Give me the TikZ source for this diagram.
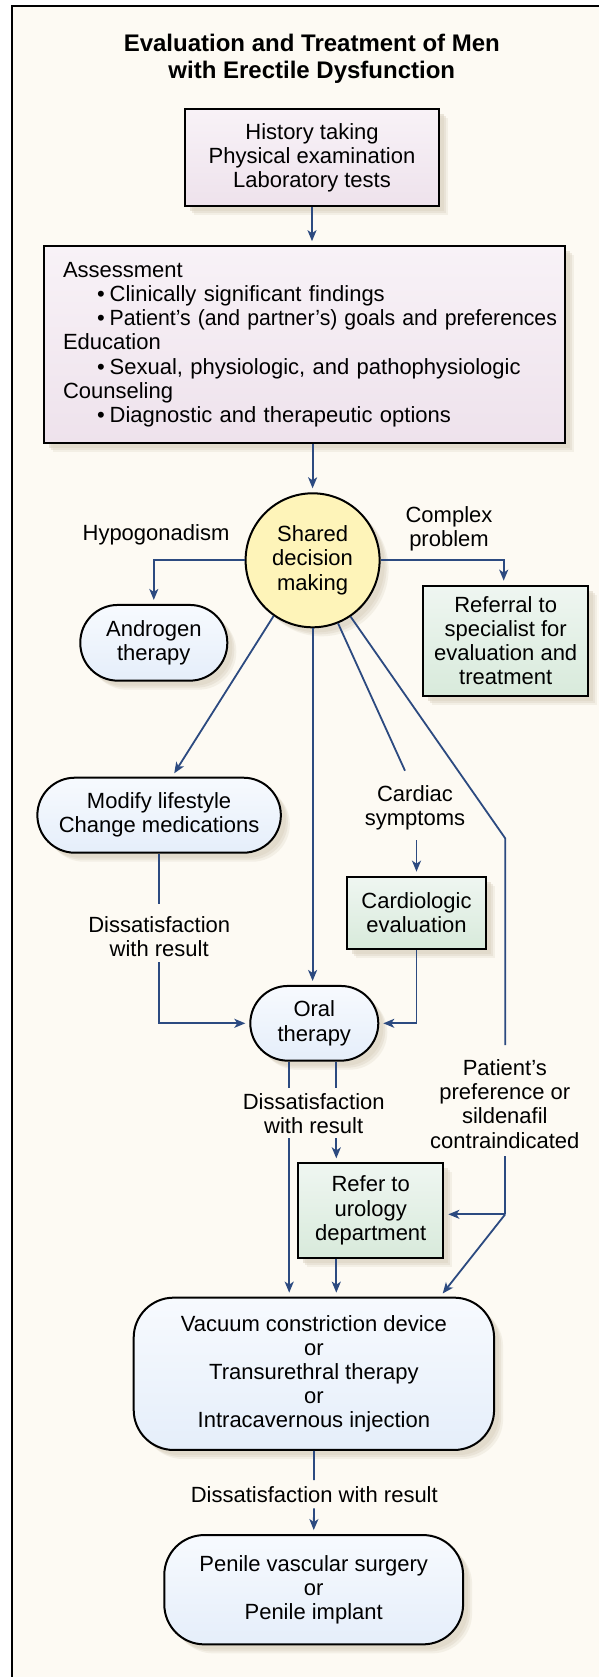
\documentclass[tikz,border=0pt]{standalone}
\usepackage{fontspec}
\usepackage{graphicx}
\setmainfont{Liberation Sans}
\usetikzlibrary{arrows.meta,shadows,calc}
\definecolor{bgc}{HTML}{FDFAF3}
\definecolor{navy}{HTML}{2C4A80}
\definecolor{lavt}{HTML}{F8F2F7}
\definecolor{lavb}{HTML}{EEE2EC}
\definecolor{grnt}{HTML}{EFF6F1}
\definecolor{grnb}{HTML}{D8EADB}
\definecolor{blut}{HTML}{F7FAFE}
\definecolor{blub}{HTML}{E5EEFA}
\definecolor{yel}{HTML}{FEF4B9}
\definecolor{shadc}{HTML}{DED6C6}
\begin{document}
\begin{tikzpicture}[x=1pt,y=-1pt,
  every node/.style={font=\fontsize{22}{24.2}\selectfont, align=center},
  conn/.style={draw=navy, line width=1.8pt},
  arr/.style={conn, -{Stealth[length=11pt,width=9pt,inset=3pt]}, shorten >=4pt},
  shad/.style={
    drop shadow={shadow xshift=9pt,shadow yshift=-9pt,fill=shadc,opacity=0.3},
    drop shadow={shadow xshift=7pt,shadow yshift=-7pt,fill=shadc,opacity=0.45},
    drop shadow={shadow xshift=5pt,shadow yshift=-5pt,fill=shadc,opacity=0.6}},
  boxbase/.style={draw=black, line width=2pt, inner sep=0pt, shad},
  lavbox/.style={boxbase, rectangle, top color=lavt, bottom color=lavb},
  greenbox/.style={boxbase, rectangle, top color=grnt, bottom color=grnb},
  bluebox/.style={boxbase, rectangle, rounded corners=37.5pt, top color=blut, bottom color=blub},
  bigblue/.style={boxbase, rectangle, rounded corners=40pt, top color=blut, bottom color=blub},
  lbl/.style={inner sep=0pt}
]
\useasboundingbox (0,0) rectangle (599,1677);
\fill[white] (0,0) rectangle (599,1677);
\fill[bgc] (11.5,5.8) rectangle (599,1677);
\draw[line width=2pt, black] (11.5,1677) -- (11.5,5.8) -- (599,5.8);

% title
\node[lbl, font=\bfseries\fontsize{24}{26.7}\selectfont] (title) at (311.8,58.5)
  {Evaluation and Treatment of Men\\with Erectile Dysfunction};

% boxes
\node[lavbox, minimum width=254pt, minimum height=97pt] (box1) at (312,157.7)
  {History taking\\Physical examination\\Laboratory tests};
\node[lavbox, minimum width=520.5pt, minimum height=197pt, text width=483pt,
      inner xsep=18.75pt, align=left] (box2) at (304.5,344.7)
  {Assessment\\
   \hspace*{34pt}\textbullet\hspace{5pt}Clinically significant findings\\
   \hspace*{34pt}\textbullet\hspace{5pt}\scalebox{0.965}[1]{Patient’s (and partner’s) goals and preferences}\\
   Education\\
   \hspace*{34pt}\textbullet\hspace{5pt}Sexual, physiologic, and pathophysiologic\\
   Counseling\\
   \hspace*{34pt}\textbullet\hspace{5pt}Diagnostic and therapeutic options};
\node[boxbase, circle, minimum size=134pt, fill=yel] (sdm) at (312.6,560.3)
  {Shared\\decision\\making};
\node[bluebox, minimum width=147pt, minimum height=75.7pt] (androgen) at (153.8,642.8)
  {Androgen\\therapy};
\node[greenbox, minimum width=165.5pt, minimum height=110.3pt] (referral) at (505.7,640.8)
  {Referral to\\specialist for\\evaluation and\\treatment};
\node[bluebox, minimum width=243.5pt, minimum height=75pt] (modify) at (159.1,815.2)
  {Modify lifestyle\\Change medications};
\node[greenbox, minimum width=139.8pt, minimum height=72.3pt] (cardio) at (416.5,912.8)
  {Cardiologic\\evaluation};
\node[bluebox, minimum width=128pt, minimum height=74.7pt] (oral) at (314.3,1023.3)
  {Oral\\therapy};
\node[greenbox, minimum width=145.3pt, minimum height=94.3pt] (refer) at (370.7,1210.5)
  {Refer to\\urology\\department};
\node[bigblue, minimum width=360.4pt, minimum height=152.3pt] (vacuum) at (313.9,1373.8)
  {Vacuum constriction device\\or\\Transurethral therapy\\or\\Intracavernous injection};
\node[bigblue, minimum width=298.8pt, minimum height=109.3pt] (penile) at (313.7,1589.7)
  {Penile vascular surgery\\or\\Penile implant};

% labels
\node[lbl] (hypo) at (156,535) {Hypogonadism};
\node[lbl] (complex) at (449,529) {Complex\\problem};
\node[lbl] (cardiac) at (415,807.5) {Cardiac\\symptoms};
\node[lbl] (diss1) at (159.2,937) {Dissatisfaction\\with result};
\node[lbl] (diss2) at (313.7,1114) {Dissatisfaction\\with result};
\node[lbl] (pref) at (504.8,1104) {Patient’s\\preference or\\sildenafil\\contraindicated};
\node[lbl] (diss3) at (314.3,1494.5) {Dissatisfaction with result};

% free ends
\coordinate (c1) at (405,770.7);
\coordinate (p1) at (505.2,838.3);
\coordinate (p2) at (505.2,1045);
\coordinate (p3) at (505.2,1156);
\coordinate (j) at (505.2,1214.3);
\coordinate (m1) at (159.1,904);
\coordinate (m2) at (159.1,962.3);
\coordinate (cs) at (416.5,840);
\coordinate (o1) at (289.2,1088.3);
\coordinate (o2) at (289.2,1138.3);
\coordinate (o3) at (336.3,1088.3);
\coordinate (o4) at (336.3,1138.3);
\coordinate (v1) at (314,1480);
\coordinate (v2) at (314,1508.3);

% connectors
\draw[arr] (box1.south) -- (box1.south |- box2.north);
\draw[arr] (sdm.north |- box2.south) -- (sdm.north);
\draw[arr] (sdm.west) -| (androgen.north);
\draw[arr] (sdm.east) -| ([xshift=-2pt]referral.north);
\draw[arr] (sdm.235) -- ([xshift=13pt]modify.north);
\draw[arr] (sdm.south) -- (sdm.south |- oral.north);
\draw[conn] (sdm.292) -- (c1);
\draw[arr] (cs) -- (cardio.north);
\draw[conn] (sdm.304) -- (p1) -- (p2);
\draw[conn] (p3) -- (j);
\draw[arr] (j) -- (refer.east |- j);
\draw[arr] (j) -- ([xshift=126.3pt]vacuum.north);
\draw[conn] (m1 |- modify.south) -- (m1);
\draw[arr] (m2) |- (oral.west);
\draw[arr] (cardio.south) |- (oral.east);
\draw[conn] (o1 |- oral.south) -- (o1);
\draw[conn] (o3 |- oral.south) -- (o3);
\draw[arr] (o2) -- (o2 |- vacuum.north);
\draw[arr] (o4) -- (o4 |- refer.north);
\draw[arr] (o4 |- refer.south) -- (o4 |- vacuum.north);
\draw[conn] (vacuum.south) -- (v1);
\draw[arr] (v2) -- (penile.north);
\end{tikzpicture}
\end{document}
